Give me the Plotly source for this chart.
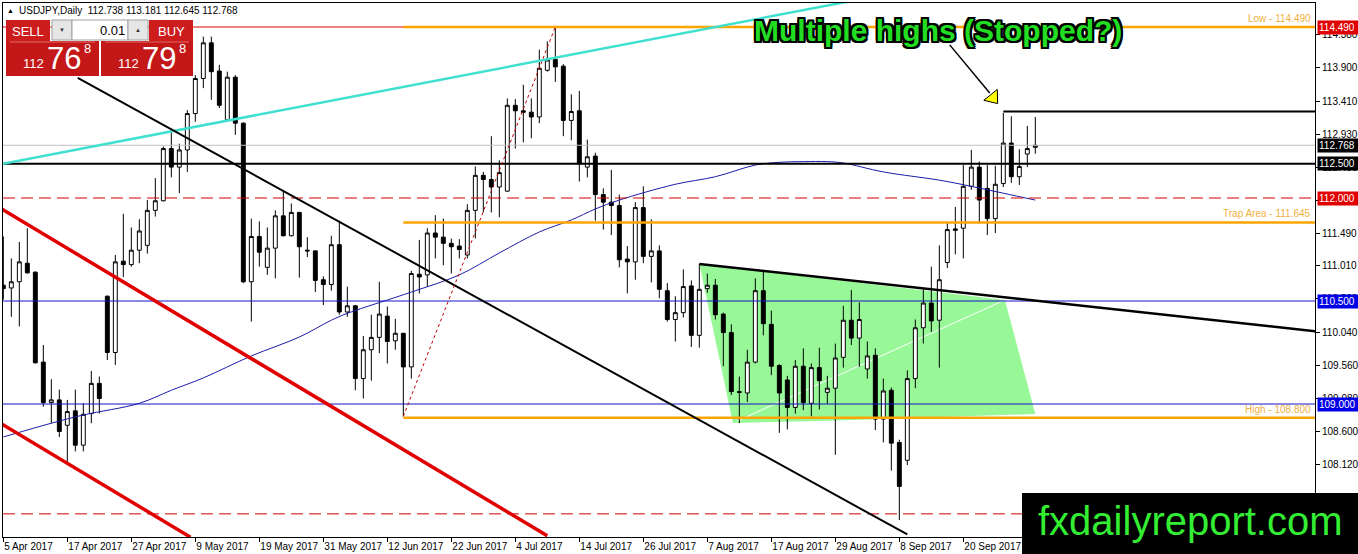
import pandas as pd
import plotly.graph_objects as go

# USDJPY daily bars, 5 Apr 2017 .. 3 Oct 2017 (130 sessions)
dates = pd.bdate_range("2017-04-05", "2017-10-03")

opens = [110.73, 110.69, 110.78, 111.05, 110.92, 109.61, 109.02, 109.06, 108.69, 108.90,
         108.40, 108.86, 109.30, 110.57, 109.75, 111.08, 111.03, 111.24, 111.31, 111.82,
         111.96, 112.72, 112.45, 112.70, 113.23, 113.74, 114.26, 113.85, 113.14, 113.76,
         113.09, 110.78, 111.44, 110.99, 111.27, 111.74, 111.45, 111.79, 111.24, 111.23,
         110.81, 110.74, 111.32, 110.34, 110.43, 109.37, 109.79, 109.97, 110.28, 109.92,
         110.03, 109.54, 110.89, 110.88, 111.49, 111.43, 111.34, 111.30, 111.17, 111.82,
         112.33, 112.27, 112.16, 112.10, 113.35, 113.27, 113.25, 113.18, 113.86, 114.02,
         113.92, 113.13, 113.27, 112.45, 112.61, 112.05, 111.94, 111.89, 111.11, 111.07,
         111.86, 111.15, 111.23, 110.65, 110.23, 110.33, 110.72, 110.00, 110.68, 110.73,
         110.31, 110.04, 109.18, 109.16, 109.61, 110.65, 110.16, 109.56, 109.35, 108.95,
         109.55, 109.01, 109.53, 109.17, 109.23, 109.68, 110.22, 109.96, 109.51, 109.71,
         108.78, 109.20, 108.44, 108.18, 109.37, 110.11, 110.47, 110.22, 111.06, 111.55,
         111.56, 112.17, 112.45, 112.14, 111.70, 112.21, 112.80, 112.31, 112.64, 112.738]
highs = [111.44, 111.12, 111.36, 111.56, 110.93, 109.86, 109.36, 109.21, 109.06, 109.21,
         109.01, 109.48, 109.40, 110.58, 111.17, 111.77, 111.57, 111.69, 111.97, 112.29,
         112.75, 112.99, 112.79, 113.28, 113.79, 114.35, 114.35, 113.94, 113.84, 113.79,
         113.10, 111.70, 111.66, 111.57, 111.82, 112.11, 111.92, 111.80, 111.43, 111.24,
         110.86, 111.45, 111.67, 110.71, 110.44, 109.99, 110.30, 110.78, 110.42, 110.24,
         110.03, 110.94, 111.39, 111.56, 111.75, 111.70, 111.41, 111.40, 111.91, 112.46,
         112.38, 112.90, 112.55, 113.45, 113.44, 113.65, 113.45, 114.16, 114.28, 114.49,
         113.95, 113.51, 113.56, 112.85, 112.66, 112.14, 112.41, 112.05, 111.30, 111.94,
         112.17, 111.69, 111.31, 110.76, 110.57, 110.96, 110.80, 111.04, 110.90, 110.82,
         110.33, 110.16, 109.40, 109.79, 110.83, 110.93, 110.36, 109.58, 109.41, 109.64,
         109.81, 109.59, 109.82, 109.41, 109.88, 110.43, 110.66, 110.48, 109.91, 109.81,
         109.37, 109.24, 108.48, 109.49, 110.23, 110.67, 111.00, 111.31, 111.64, 111.87,
         112.48, 112.70, 112.53, 112.48, 112.47, 113.24, 113.19, 112.71, 113.05, 113.181]
lows = [110.52, 110.27, 110.13, 110.90, 109.59, 108.96, 108.72, 108.52, 108.14, 108.31,
        108.31, 108.72, 108.86, 109.64, 109.57, 110.85, 111.00, 111.05, 111.19, 111.73,
        111.95, 112.30, 112.07, 112.38, 113.11, 113.60, 113.43, 113.31, 113.13, 112.92,
        110.76, 110.20, 111.00, 110.88, 110.83, 111.44, 111.44, 110.84, 111.14, 110.63,
        110.44, 110.65, 110.30, 110.27, 109.20, 109.08, 109.34, 109.74, 109.59, 109.79,
        108.82, 109.37, 110.61, 110.71, 111.12, 111.02, 110.90, 111.12, 111.12, 111.41,
        111.79, 111.79, 111.72, 112.09, 112.72, 112.81, 112.87, 113.09, 113.84, 113.69,
        112.90, 112.84, 112.24, 112.30, 111.67, 111.54, 111.46, 110.99, 110.61, 110.81,
        111.05, 110.77, 110.54, 110.20, 109.91, 110.26, 109.83, 109.82, 110.62, 110.23,
        109.55, 109.13, 108.72, 109.03, 109.59, 110.00, 109.42, 108.58, 108.63, 108.86,
        108.91, 108.82, 108.92, 109.00, 108.26, 109.53, 109.86, 109.54, 109.37, 108.62,
        108.44, 108.03, 107.31, 108.11, 109.23, 109.88, 110.05, 109.53, 110.98, 111.18,
        111.12, 112.12, 111.63, 111.46, 111.49, 112.16, 112.22, 112.19, 112.45, 112.645]
closes = [110.68, 110.78, 111.07, 110.91, 109.60, 109.02, 109.06, 108.60, 108.89, 108.40,
          108.85, 109.30, 109.08, 109.75, 111.07, 111.03, 111.24, 111.52, 111.82, 111.96,
          112.72, 112.45, 112.70, 113.23, 113.74, 114.26, 113.84, 113.35, 113.76, 113.09,
          110.78, 111.44, 111.21, 111.27, 111.74, 111.45, 111.79, 111.29, 111.23, 110.80,
          110.74, 111.32, 110.34, 110.43, 109.37, 109.79, 109.97, 110.31, 109.91, 110.03,
          109.54, 110.90, 110.85, 111.49, 111.43, 111.34, 111.29, 111.25, 111.82, 112.33,
          112.27, 112.16, 112.37, 113.35, 113.27, 113.25, 113.18, 113.89, 114.01, 113.91,
          113.13, 113.26, 112.50, 112.60, 112.05, 111.94, 111.89, 111.10, 111.07, 111.86,
          111.15, 111.23, 110.67, 110.23, 110.33, 110.71, 110.00, 110.67, 110.73, 110.30,
          110.04, 109.18, 109.17, 109.61, 110.65, 110.17, 109.55, 109.16, 108.95, 109.55,
          109.02, 109.53, 109.34, 109.23, 109.67, 110.22, 109.96, 110.23, 109.70, 108.78,
          109.19, 108.43, 107.80, 109.37, 110.11, 110.47, 110.21, 110.81, 111.54, 111.53,
          112.17, 112.45, 111.97, 111.70, 112.20, 112.80, 112.31, 112.46, 112.72, 112.768]

# moving average, read at sample bars
ma_bars = [0, 6, 10, 17, 21, 25, 31, 37, 41, 43, 51, 57, 62, 67, 71, 74, 77, 84, 89, 94,
           97, 100, 103, 105, 110, 117, 121, 125, 129]
ma_vals = [108.52, 108.72, 108.84, 109.01, 109.20, 109.38, 109.70, 109.975, 110.22, 110.32,
           110.63, 110.88, 111.20, 111.505, 111.68, 111.84, 111.97, 112.20, 112.31, 112.48,
           112.52, 112.53, 112.53, 112.51, 112.38, 112.26, 112.17, 112.07, 111.97]

# horizontal levels
level_low = 114.490
level_trap = 111.645
level_high = 108.800
level_black = 112.500
level_top = 113.26
red_dashed = [112.000, 107.40]
blue_levels = [110.500, 109.000]

# drawn objects as (bar, price) anchors
cyan_line = [(-0.5, 112.49), (106, 114.87)]
black_diag = [(9.3, 113.75), (113, 107.10)]
red_upper = [(-0.5, 111.86), (68, 107.08)]
red_lower = [(-0.5, 108.73), (23.4, 107.06)]
tri_top = [(87, 111.04), (164, 110.06)]
green_zone = [(87, 111.04), (125.2, 110.515), (129, 108.854), (102.1, 108.752), (91.2, 108.723)]
white_line = [(91.7, 108.75), (125.2, 110.515)]
red_dotted = [(50, 108.82), (69, 114.49)]
arrow_line = [(118.3, 114.23), (123.3, 113.53)]
arrow_head = (123.7, 113.46)

yticks = [114.380, 113.900, 113.410, 112.930, 112.450, 111.970, 111.490, 111.010,
          110.530, 110.040, 109.560, 109.080, 108.600, 108.120, 107.640]

FONT = "Liberation Sans"
W, H = 1358, 554
ML, MR, MT, MB = 3, 43, 3, 17
PW, PH = W - ML - MR, H - MT - MB


def xp(x):
    return (x - ML) / PW


def yp(y):
    return (H - MB - y) / PH


bars = list(range(len(dates)))

fig = go.Figure()

fig.add_trace(go.Candlestick(
    x=bars, open=opens, high=highs, low=lows, close=closes,
    increasing=dict(fillcolor="white", line=dict(color="black", width=1)),
    decreasing=dict(fillcolor="black", line=dict(color="black", width=1)),
    whiskerwidth=0, hoverinfo="skip", showlegend=False,
))

fig.add_trace(go.Scatter(
    x=ma_bars, y=ma_vals, mode="lines", line=dict(color="#1c1ca8", width=1, shape="spline"),
    hoverinfo="skip", showlegend=False,
))

shapes = []


def seg(pts, color, width, dash="solid", layer="above"):
    (x0, y0), (x1, y1) = pts
    shapes.append(dict(type="line", xref="x", yref="y", x0=x0, y0=y0, x1=x1, y1=y1,
                       line=dict(color=color, width=width, dash=dash), layer=layer))


def hline(y, color, width, dash="solid", x0=None):
    if x0 is None:
        shapes.append(dict(type="line", xref="paper", yref="y", x0=0, x1=1, y0=y, y1=y,
                           line=dict(color=color, width=width, dash=dash), layer="above"))
    else:
        shapes.append(dict(type="line", xref="x", yref="y", x0=x0, x1=170, y0=y, y1=y,
                           line=dict(color=color, width=width, dash=dash), layer="above"))


# green zone in the background
path = "M " + " L ".join(f"{a},{b}" for a, b in green_zone) + " Z"
shapes.append(dict(type="path", xref="x", yref="y", path=path, fillcolor="#98f898",
                   line=dict(width=0), layer="below"))
seg(white_line, "white", 1, layer="below")

hline(closes[-1], "#c0c0c0", 1)
hline(level_low, "#e00000", 1)
hline(level_low, "#ffa500", 2.5, x0=50)
hline(level_trap, "#ffa500", 2.5, x0=50)
hline(level_high, "#ffa500", 2.5, x0=50)
hline(level_black, "black", 2)
hline(level_top, "black", 2, x0=125)
for lv in red_dashed:
    hline(lv, "#d00000", 1, dash="12px,6px")
for lv in blue_levels:
    hline(lv, "#1414c8", 1)

seg(cyan_line, "#40e0d0", 2.5)
seg(black_diag, "black", 2)
seg(red_upper, "#e00000", 3.5)
seg(red_lower, "#e00000", 3.5)
seg(tri_top, "black", 2.5)
seg(red_dotted, "#c00000", 1, dash="dot")
seg(arrow_line, "black", 1.5)

# one-click trading panel (top-left)
RED = "#cc1c1c"


def box(x0, y0, x1, y1, fill, line="rgba(0,0,0,0)"):
    shapes.append(dict(type="rect", xref="paper", yref="paper", x0=xp(x0), x1=xp(x1),
                       y0=yp(y1), y1=yp(y0), fillcolor=fill, line=dict(color=line, width=1),
                       layer="above"))


box(6, 20, 50, 41, RED)
box(52, 20, 72, 40, "#e6e6e6", "#a0a0a0")
box(72, 20, 128, 40, "white", "#a0a0a0")
box(128, 20, 148, 40, "#e6e6e6", "#a0a0a0")
box(149, 20, 193, 41, RED)
box(6, 41, 99, 76, "#c41818")
box(101, 41, 193, 76, "#c41818")
box(10, 41.5, 95, 42.5, "#e46a6a")
box(105, 41.5, 189, 42.5, "#e46a6a")

# logo box (bottom-right)
box(1022, 493, 1360, 556, "black")

annotations = []


def txt(x, y, s, size, color="black", xanchor="left", yanchor="middle", family=FONT, **kw):
    annotations.append(dict(xref="paper", yref="paper", x=xp(x), y=yp(y), text=s,
                            showarrow=False, xanchor=xanchor, yanchor=yanchor,
                            font=dict(size=size, color=color, family=family, **kw)))


bid = closes[-1]
ask = bid + 0.030
title = (f"USDJPY,Daily  {opens[-1]:.3f} {highs[-1]:.3f} {lows[-1]:.3f} {closes[-1]:.3f}")
txt(5, 10, "▲", 7)
txt(17, 10, title, 10)

txt(28, 31, "SELL", 13, "white", xanchor="center")
txt(171, 31, "BUY", 13, "white", xanchor="center")
txt(62, 30, "▼", 6, "#333", xanchor="center")
txt(138, 30, "▲", 6, "#333", xanchor="center")
txt(127, 30, "0.01", 13, "black", xanchor="right")

bid_s, ask_s = f"{bid:.3f}", f"{ask:.3f}"
for x0, s in [(0, bid_s), (95, ask_s)]:
    txt(x0 + 33, 64, s[:3], 13, "white", xanchor="center")
    txt(x0 + 64, 58, s[4:6], 31, "white", xanchor="center")
    txt(x0 + 87, 49, s[6], 13, "white", xanchor="center")

# level captions
for lv, name in [(level_low, "Low"), (level_trap, "Trap Area"), (level_high, "High")]:
    annotations.append(dict(xref="paper", yref="y", x=1, y=lv, xshift=-2, yshift=1,
                            text=f"{name} - {lv:.3f}", showarrow=False, xanchor="right",
                            yanchor="bottom", font=dict(size=10, color="#f0b040", family=FONT)))

# price boxes on the right axis
for lv, bg in [(level_low, "#e00000"), (bid, "black"), (level_black, "black"),
               (red_dashed[0], "#e00000"), (blue_levels[0], "#0000e6"), (blue_levels[1], "#0000e6")]:
    annotations.append(dict(xref="paper", yref="y", x=1, y=lv, xshift=2, text=f"{lv:.3f}",
                            showarrow=False, xanchor="left", yanchor="middle", bgcolor=bg,
                            borderpad=1, width=40, align="left",
                            font=dict(size=10, color="white", family=FONT)))

annotations.append(dict(xref="x", yref="y", x=116.8, y=114.44, text="Multiple highs (Stopped?)",
                        showarrow=False, xanchor="center", yanchor="middle",
                        font=dict(size=30, color="#22dd22", family="Liberation Sans", weight="bold",
                                  shadow="2px 2px 0 #000, -2px -2px 0 #000, 2px -2px 0 #000, "
                                         "-2px 2px 0 #000, 0 2px 0 #000, 2px 0 0 #000, "
                                         "0 -2px 0 #000, -2px 0 0 #000")))

txt(1190, 521, "fxdailyreport.com", 40, "#33ee33", xanchor="center")

fig.add_trace(go.Scatter(
    x=[arrow_head[0]], y=[arrow_head[1]], mode="markers",
    marker=dict(symbol="triangle-up", angle=141, size=15, color="#ffff00",
                line=dict(color="black", width=1)),
    hoverinfo="skip", showlegend=False,
))

xt = list(range(0, 121, 8))
fig.update_layout(
    width=W, height=H,
    margin=dict(l=ML, r=MR, t=MT, b=MB, autoexpand=False),
    paper_bgcolor="white", plot_bgcolor="white",
    font=dict(family=FONT, size=10, color="black"),
    shapes=shapes, annotations=annotations,
    showlegend=False,
    xaxis=dict(range=[-0.04, 163.96], rangeslider=dict(visible=False), showgrid=False,
               zeroline=False, showline=True, mirror=True, linecolor="black", linewidth=1,
               tickvals=xt, ticktext=[f"{dates[i].day} {dates[i]:%b %Y}" for i in xt],
               ticks="outside", ticklen=4, tickcolor="black", ticklabelposition="outside right",
               tickangle=0, automargin=False, tickfont=dict(size=10, family=FONT)),
    yaxis=dict(range=[107.063, 114.84], side="right", showgrid=False, zeroline=False,
               showline=True, mirror=True, linecolor="black", linewidth=1, automargin=False,
               tickvals=yticks, ticktext=[f"{v:.3f}" for v in yticks],
               ticks="outside", ticklen=4, tickcolor="black", tickfont=dict(size=10, family=FONT)),
)

fig.write_html("out.html", config={"displayModeBar": False},
               post_script="document.body.style.margin='0';")
